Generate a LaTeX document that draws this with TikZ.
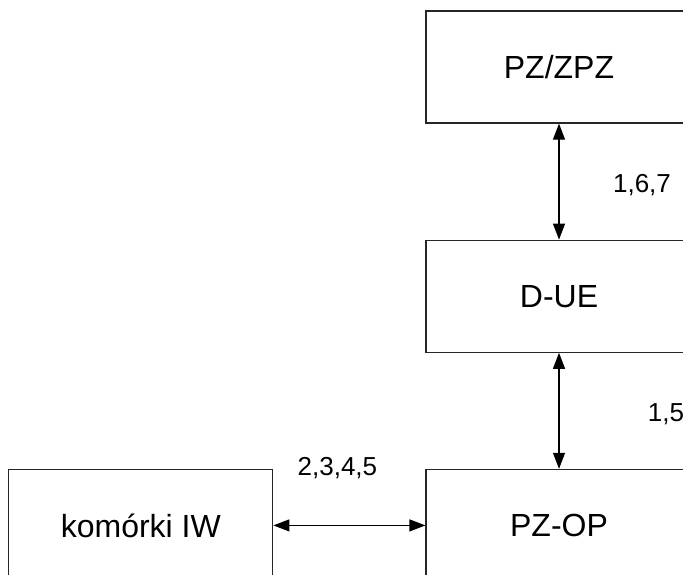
\documentclass[tikz,border=0pt]{standalone}
\usepackage{fontspec}
\setmainfont{Liberation Sans}
\usepackage{tikz}
\usetikzlibrary{arrows.meta,positioning}
\tikzstyle{unit} = [rectangle, minimum width=133pt, minimum height=56pt, text centered, draw=black!85, line width=0.6pt, font=\fontsize{16}{19}\selectfont]
\tikzstyle{link} = [line width=0.6pt, {Triangle[length=8pt,width=6pt]}-{Triangle[length=8pt,width=6pt]}]
\tikzstyle{lbl} = [font=\fontsize{13}{16}\selectfont]

\begin{document}
\begin{tikzpicture}[node distance=58pt]
\useasboundingbox (0,0) rectangle (341.5pt,-287pt);
\clip (0,0) rectangle (341.5pt,-287pt);
\node[unit] (pz) at (279.5pt,-33.5pt) {PZ/ZPZ};
\node[unit, below=of pz] (due) {D-UE};
\node[unit, below=of due] (pzop) {PZ-OP};
\node[unit, minimum width=132pt, left=76pt of pzop] (iw) {komórki IW};

\draw[link] (pz.south) -- (due.north) node[lbl, midway, xshift=41.5pt, yshift=-1.5pt] (l167) {1,6,7};
\draw[link] (due.south) -- (pzop.north) node[lbl, midway, xshift=53.5pt, yshift=-1.5pt] (l15) {1,5};
\draw[link] (iw.east) -- (pzop.west) node[lbl, midway, xshift=-6pt, yshift=28.5pt] (l2345) {2,3,4,5};
\end{tikzpicture}
\end{document}
